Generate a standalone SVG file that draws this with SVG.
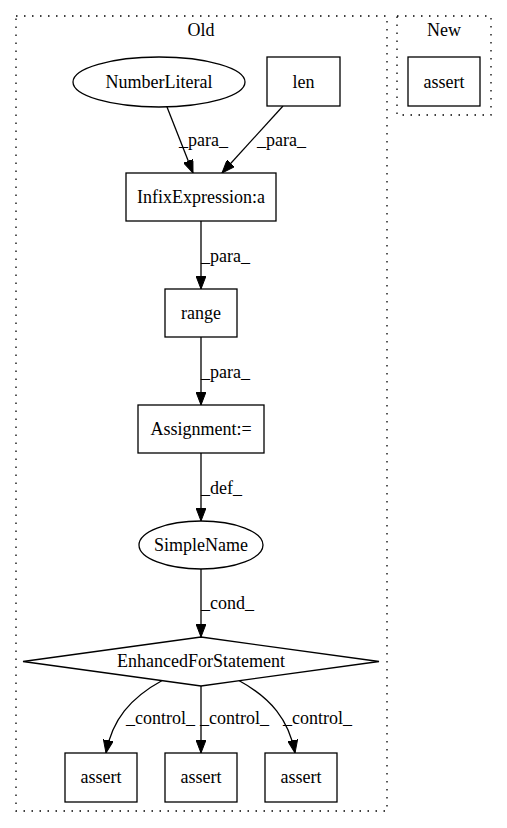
<svg xmlns="http://www.w3.org/2000/svg" width="507" height="828" viewBox="0 0 507 828">
<style>
text{font-family:"Liberation Serif","Times New Roman",serif;font-size:18px;fill:#000}
.n{text-anchor:middle}
.shape{fill:#fff;stroke:#000;stroke-width:1.3}
.cl{fill:none;stroke:#000;stroke-width:1.3;stroke-dasharray:1.5,6.5}
.e{fill:none;stroke:#000;stroke-width:1.3;marker-end:url(#ah)}
</style>
<defs>
<marker id="ah" viewBox="0 0 13 10" refX="13" refY="5" markerWidth="13" markerHeight="10" markerUnits="userSpaceOnUse" orient="auto">
<path d="M0,0 L13,5 L0,10 z" fill="#000" stroke="#000" stroke-width="1"/>
</marker>
</defs>
<rect width="507" height="828" fill="#fff"/>
<g id="cluster_old">
<rect class="cl" x="16" y="16" width="371" height="795"/>
<text class="n" x="201" y="36">Old</text>
</g>
<g id="cluster_new">
<rect class="cl" x="397" y="16" width="94" height="99"/>
<text class="n" x="444" y="36">New</text>
</g>
<g id="edges">
<path class="e" d="M167,107 L193,173"/>
<text x="179" y="146">_para_</text>
<path class="e" d="M283,106 L222,173"/>
<text x="257" y="146">_para_</text>
<path class="e" d="M201,221 L201,289"/>
<text x="201" y="262">_para_</text>
<path class="e" d="M201,337 L201,405"/>
<text x="201" y="378">_para_</text>
<path class="e" d="M201,453 L201,521"/>
<text x="201" y="494">_def_</text>
<path class="e" d="M201,568 L201,637"/>
<text x="201" y="609">_cond_</text>
<path class="e" d="M163,680 C130,698 112,720 106,753"/>
<text x="126" y="724">_control_</text>
<path class="e" d="M201,686 L201,753"/>
<text x="200" y="724">_control_</text>
<path class="e" d="M238,680 C271,698 289,720 295,753"/>
<text x="283" y="724">_control_</text>
</g>
<g id="NumberLiteral">
<ellipse class="shape" cx="159" cy="82" rx="86" ry="25"/>
<text class="n" x="159" y="88">NumberLiteral</text>
</g>
<g id="len">
<rect class="shape" x="267" y="57" width="73" height="49"/>
<text class="n" x="303.5" y="88">len</text>
</g>
<g id="assert_new">
<rect class="shape" x="408" y="57" width="72" height="49"/>
<text class="n" x="444" y="88">assert</text>
</g>
<g id="InfixExpression">
<rect class="shape" x="126" y="173" width="150" height="48"/>
<text class="n" x="201" y="203">InfixExpression:a</text>
</g>
<g id="range">
<rect class="shape" x="165" y="289" width="72" height="48"/>
<text class="n" x="201" y="319">range</text>
</g>
<g id="Assignment">
<rect class="shape" x="138" y="405" width="126" height="48"/>
<text class="n" x="201" y="435">Assignment:=</text>
</g>
<g id="SimpleName">
<ellipse class="shape" cx="201" cy="545" rx="62" ry="24"/>
<text class="n" x="201" y="551">SimpleName</text>
</g>
<g id="EnhancedForStatement">
<polygon class="shape" points="201,637 379,661.5 201,686 23,661.5"/>
<text class="n" x="201" y="667">EnhancedForStatement</text>
</g>
<g id="assert1">
<rect class="shape" x="65" y="753" width="72" height="49"/>
<text class="n" x="101" y="783">assert</text>
</g>
<g id="assert2">
<rect class="shape" x="165" y="753" width="72" height="49"/>
<text class="n" x="201" y="783">assert</text>
</g>
<g id="assert3">
<rect class="shape" x="265" y="753" width="72" height="49"/>
<text class="n" x="301" y="783">assert</text>
</g>
</svg>
